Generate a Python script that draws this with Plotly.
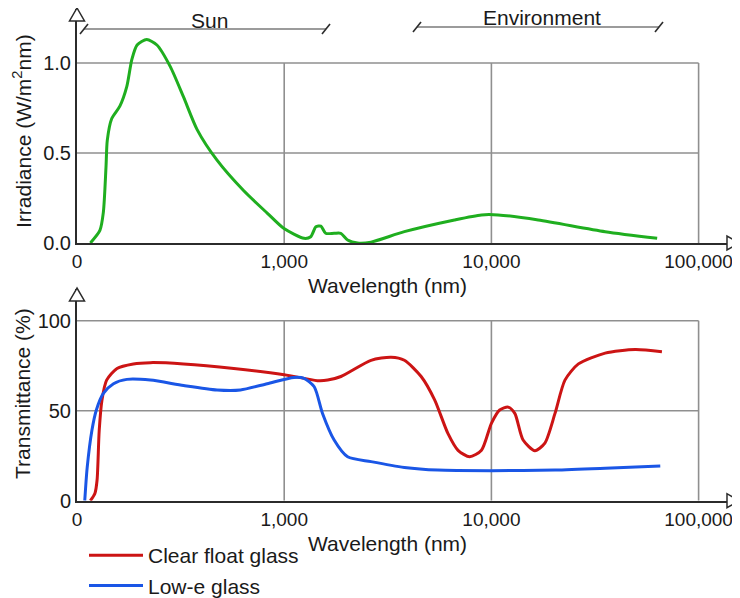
import plotly.graph_objects as go

# ---------------- data ----------------
sun_wavelength = [116, 129, 134, 138, 140, 147, 161, 174, 184, 195, 217, 243, 282, 327,
                  380, 474, 638, 830, 998, 1247, 1343, 1422, 1503, 1585, 1742, 1875,
                  2023, 2259, 2624, 3802, 6637, 8954, 10765, 16827, 35400, 63096]
irradiance = [0, 0.07, 0.17, 0.42, 0.57, 0.69, 0.76, 0.87, 1.02, 1.10, 1.13, 1.10, 0.98, 0.81,
              0.63, 0.46, 0.29, 0.165, 0.08, 0.026, 0.035, 0.09, 0.094, 0.054, 0.054, 0.054,
              0.017, 0, 0.005, 0.063, 0.128, 0.156, 0.156, 0.128, 0.063, 0.026]

clear_wavelength = [116, 122, 125, 128, 132, 139, 156, 187, 226, 327, 571, 1000, 1445, 1622,
                    1879, 2624, 3281, 3802, 4581, 5321, 6166, 6902, 7852, 8954, 10000, 10965,
                    12050, 12972, 14223, 16218, 18113, 20277, 22646, 26303, 35400, 49431, 66527]
clear_transmittance = [0, 4, 11.5, 39, 56, 67, 73.5, 76, 76.7, 76, 73.5, 70, 66.7, 67,
                       69, 78, 79.7, 78, 69, 56, 37.4, 28, 24.4, 28, 43, 50.4,
                       52, 48.5, 33.7, 27.8, 32, 48.5, 67, 76, 82, 84, 82.8]

lowe_wavelength = [109, 112, 118, 124, 134, 150, 174, 226, 327, 474, 615, 828, 1114, 1247,
                   1396, 1531, 1742, 2023, 2624, 3802, 5508, 10000, 20277, 35400, 65313]
lowe_transmittance = [0, 18.5, 39, 50.4, 59.6, 65, 67.4, 67, 64, 61.5, 61.5, 65, 68.5, 68,
                      63.3, 48.5, 33.7, 24.4, 21.7, 18.5, 17, 16.7, 17, 18, 19.3]

x_tick_vals = [100, 1000, 10000, 100000]
x_tick_text = ["0", "1,000", "10,000", "100,000"]
irr_tick_vals = [0, 0.5, 1.0]
irr_tick_text = ["0.0", "0.5", "1.0"]
trans_tick_vals = [0, 50, 100]
trans_tick_text = ["0", "50", "100"]

brackets = [("Sun", 84, 326, 29), ("Environment", 417, 659, 27)]  # label, page px start/end, px y

# ---------------- layout constants ----------------
OFF = 8                      # default page body margin of the html page
W, H = 740 - OFF, 598 - OFF  # figure size so that it fills the window
ML = 77 - OFF
PW = W - ML
FONT = "Liberation Sans, Arial, sans-serif"
DARK = "#2b2b2b"
GRID = "#8f8f8f"
GREEN = "#1fae1f"
RED = "#cc1414"
BLUE = "#1a56e6"

TOP_PX = (9, 243)       # top panel page-pixel span (top, bottom)
BOT_PX = (289, 500.7)   # bottom panel page-pixel span


def px(x):
    """page pixel x -> paper fraction"""
    return (x - OFF - ML) / PW


def py(y):
    """page pixel y -> paper fraction"""
    return (H - (y - OFF)) / H


fig = go.Figure()

line_style = dict(width=3, shape="spline", smoothing=0.7)
fig.add_trace(go.Scatter(x=sun_wavelength, y=irradiance, mode="lines",
                         line=dict(color=GREEN, **line_style), showlegend=False,
                         xaxis="x", yaxis="y", name="Irradiance"))
fig.add_trace(go.Scatter(x=clear_wavelength, y=clear_transmittance, mode="lines",
                         line=dict(color=RED, **line_style), name="Clear float glass",
                         xaxis="x2", yaxis="y2"))
fig.add_trace(go.Scatter(x=lowe_wavelength, y=lowe_transmittance, mode="lines",
                         line=dict(color=BLUE, **line_style), name="Low-e glass",
                         xaxis="x2", yaxis="y2"))

shapes = []
# grid boxes
for xr, yr, ys, ytop in (("x", "y", [0.5, 1.0], 1.0), ("x2", "y2", [50, 100], 100)):
    for yv in ys:
        shapes.append(dict(type="line", xref=xr, yref=yr, x0=100, x1=100000, y0=yv, y1=yv,
                           line=dict(color=GRID, width=1.6), layer="below"))
    for xv in x_tick_vals[1:]:
        shapes.append(dict(type="line", xref=xr, yref=yr, x0=xv, x1=xv, y0=0, y1=ytop,
                           line=dict(color=GRID, width=1.6), layer="below"))


# axis arrowheads (open triangles)
def tri_path(pts):
    return "M" + " L".join(f"{px(a):.5f},{py(b):.5f}" for a, b in pts) + " Z"


for top, bottom in (TOP_PX, BOT_PX):
    shapes.append(dict(type="path", xref="paper", yref="paper",
                       path=tri_path([(77, top - 1), (77 - 7.5, top + 12), (77 + 7.5, top + 12)]),
                       fillcolor="white", line=dict(color=DARK, width=1.5), layer="above"))
    shapes.append(dict(type="path", xref="paper", yref="paper",
                       path=tri_path([(739, bottom), (727, bottom - 7), (727, bottom + 7)]),
                       fillcolor="white", line=dict(color=DARK, width=1.5), layer="above"))

annotations = []
# range brackets
for label, x0, x1, yb in brackets:
    shapes.append(dict(type="line", xref="paper", yref="paper", x0=px(x0), x1=px(x1),
                       y0=py(yb), y1=py(yb), line=dict(color="#7a7a7a", width=1.3)))
    for xe in (x0, x1):
        shapes.append(dict(type="line", xref="paper", yref="paper", x0=px(xe - 4), x1=px(xe + 4),
                           y0=py(yb + 5), y1=py(yb - 5), line=dict(color=DARK, width=1.6)))
    annotations.append(dict(text=label, xref="paper", yref="paper", x=px((x0 + x1) / 2 + 4),
                            y=py(yb - 9), showarrow=False, xanchor="center", yanchor="middle",
                            font=dict(size=21, color="#1a1a1a", family=FONT)))

# axis titles
for yy in (285, 543):
    annotations.append(dict(text="Wavelength (nm)", xref="paper", yref="paper", x=px(387),
                            y=py(yy), showarrow=False, xanchor="center", yanchor="middle",
                            font=dict(size=21, color="#1a1a1a", family=FONT)))
annotations.append(dict(text="Irradiance (W/m<sup>2</sup>nm)", xref="paper", yref="paper",
                        x=px(22), y=py(131), showarrow=False, textangle=-90,
                        xanchor="center", yanchor="middle",
                        font=dict(size=21, color="#1a1a1a", family=FONT)))
annotations.append(dict(text="Transmittance (%)", xref="paper", yref="paper",
                        x=px(22), y=py(394), showarrow=False, textangle=-90,
                        xanchor="center", yanchor="middle",
                        font=dict(size=21, color="#1a1a1a", family=FONT)))

xaxis_common = dict(type="log", range=[2, 2 + PW / 207.2], tickvals=x_tick_vals,
                    ticktext=x_tick_text, showgrid=False, zeroline=False, showline=True,
                    linecolor=DARK, linewidth=2, ticks="", layer="below traces",
                    tickfont=dict(size=19, color="#1a1a1a", family=FONT), fixedrange=True)
yaxis_common = dict(showgrid=False, zeroline=False, showline=True, linecolor=DARK, linewidth=2,
                    ticks="", layer="below traces",
                    tickfont=dict(size=20, color="#1a1a1a", family=FONT), fixedrange=True)

fig.update_layout(
    width=W, height=H,
    margin=dict(l=ML, r=0, t=0, b=0, autoexpand=False),
    paper_bgcolor="white", plot_bgcolor="white",
    font=dict(family=FONT, size=20, color="#1a1a1a"),
    xaxis=dict(domain=[0, 1], anchor="y", **xaxis_common),
    yaxis=dict(domain=[py(TOP_PX[1]), py(TOP_PX[0])], anchor="x",
               range=[0, (TOP_PX[1] - TOP_PX[0]) / 180], tickvals=irr_tick_vals,
               ticktext=irr_tick_text, **yaxis_common),
    xaxis2=dict(domain=[0, 1], anchor="y2", **xaxis_common),
    yaxis2=dict(domain=[py(BOT_PX[1]), py(BOT_PX[0])], anchor="x2",
                range=[0, (BOT_PX[1] - BOT_PX[0]) / 1.8], tickvals=trans_tick_vals,
                ticktext=trans_tick_text, **yaxis_common),
    shapes=shapes,
    annotations=annotations,
    legend=dict(x=px(84), y=py(535), xanchor="left", yanchor="top",
                font=dict(size=21, color="#1a1a1a", family=FONT),
                bgcolor="rgba(0,0,0,0)", itemwidth=54, tracegroupgap=0),
    showlegend=True,
)

fig.write_html("out.html")
